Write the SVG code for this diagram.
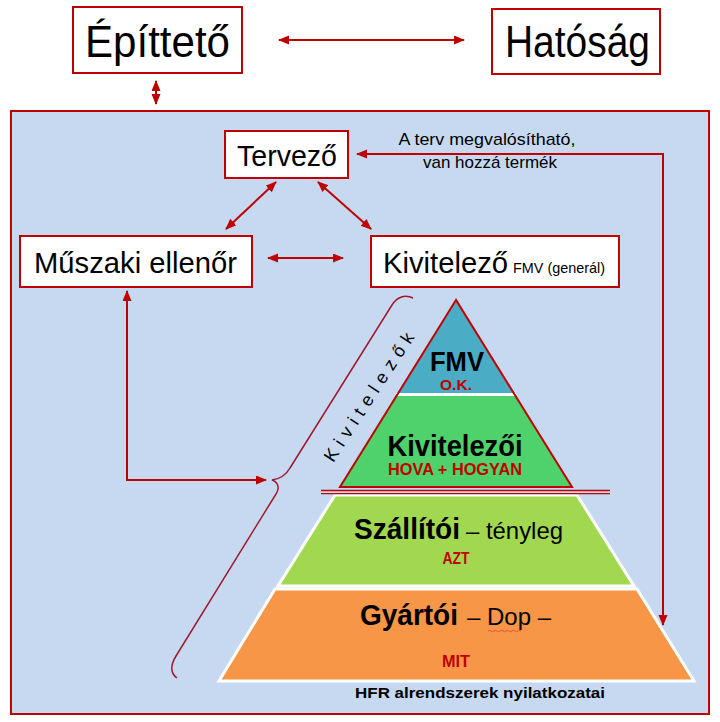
<svg xmlns="http://www.w3.org/2000/svg" width="720" height="722" viewBox="0 0 720 722">
  <style>
    .box { fill: #FFFFFF; stroke: #C00000; stroke-width: 2; }
    .lbl { font-family: "Liberation Sans", Arial, sans-serif; fill: #000000; }
    .bold { font-weight: bold; }
    .red { fill: #C00000; font-weight: bold; }
    .conn { fill: none; stroke: #C00000; stroke-width: 2; }
  </style>
  <defs>
    <marker id="arr" markerUnits="userSpaceOnUse" markerWidth="12" markerHeight="10" refX="10" refY="4.5" orient="auto-start-reverse">
      <path d="M0,0 L11,4.5 L0,9 z" fill="#C00000"/>
    </marker>
  </defs>

  <rect width="720" height="722" fill="#FFFFFF"/>

  <g id="main-area">
    <rect x="11" y="111" width="698" height="603" fill="#C6D9F1" stroke="#C00000" stroke-width="2"/>
  </g>

  <g id="epitteto">
    <rect class="box" x="73" y="7" width="169" height="66"/>
    <text class="lbl" x="85" y="57" font-size="44" textLength="145" lengthAdjust="spacingAndGlyphs">Építtető</text>
  </g>

  <g id="hatosag">
    <rect class="box" x="492" y="9" width="168" height="65"/>
    <text class="lbl" x="505" y="57" font-size="44" textLength="145" lengthAdjust="spacingAndGlyphs">Hatóság</text>
  </g>

  <g id="tervezo">
    <rect class="box" x="225" y="131" width="123" height="47"/>
    <text class="lbl" x="237" y="166" font-size="30" textLength="100" lengthAdjust="spacingAndGlyphs">Tervező</text>
  </g>

  <g id="muszaki-ellenor">
    <rect class="box" x="20" y="236" width="232" height="51"/>
    <text class="lbl" x="34" y="273" font-size="30" textLength="203" lengthAdjust="spacingAndGlyphs">Műszaki ellenőr</text>
  </g>

  <g id="kivitelezo">
    <rect class="box" x="371" y="236" width="248" height="51"/>
    <text class="lbl" x="383" y="273" font-size="30" textLength="125" lengthAdjust="spacingAndGlyphs">Kivitelező</text>
    <text class="lbl" x="513" y="273" font-size="15" textLength="92" lengthAdjust="spacingAndGlyphs">FMV (generál)</text>
  </g>

  <g id="feedback-label">
    <text class="lbl" x="487" y="145" font-size="17" text-anchor="middle" textLength="177" lengthAdjust="spacingAndGlyphs">A terv megvalósítható,</text>
    <text class="lbl" x="490" y="168" font-size="17" text-anchor="middle" textLength="134" lengthAdjust="spacingAndGlyphs">van hozzá termék</text>
  </g>

  <g id="pyramid">
    <polygon id="gyartoi" points="275,589 637,589 694,681 219,681" fill="#F79646" stroke="#FFFFFF" stroke-width="3"/>
    <polygon id="szallitoi" points="335,495 577,495 634,586 278,586" fill="#A2D84F" stroke="#FFFFFF" stroke-width="3"/>
    <polygon id="kivitelezoi" points="397,394 515,394 572,487 340,487" fill="#4FD16B"/>
    <polygon id="fmv" points="456,301 397,394 515,394" fill="#4BACC6"/>
    <line x1="396" y1="394.5" x2="516" y2="394.5" stroke="#FFFFFF" stroke-width="3"/>
    <polygon points="456,300 340,487 572,487" fill="none" stroke="#C00000" stroke-width="2"/>
    <line x1="321" y1="490.5" x2="610" y2="490.5" stroke="#C00000" stroke-width="1.3"/>
    <line x1="321" y1="493.7" x2="610" y2="493.7" stroke="#C00000" stroke-width="1.3"/>

    <text class="lbl bold" x="457" y="371" font-size="27" text-anchor="middle" textLength="54" lengthAdjust="spacingAndGlyphs">FMV</text>
    <text class="lbl red" x="456" y="390" font-size="15" text-anchor="middle" textLength="32" lengthAdjust="spacingAndGlyphs">O.K.</text>

    <text class="lbl bold" x="455" y="456" font-size="29" text-anchor="middle" textLength="135" lengthAdjust="spacingAndGlyphs">Kivitelezői</text>
    <text class="lbl red" x="455" y="475" font-size="16" text-anchor="middle" textLength="134" lengthAdjust="spacingAndGlyphs">HOVA + HOGYAN</text>

    <text class="lbl" y="539" font-size="29"><tspan class="bold" x="354" textLength="106" lengthAdjust="spacingAndGlyphs">Szállítói</tspan><tspan x="466" font-size="24" textLength="97" lengthAdjust="spacingAndGlyphs">– tényleg</tspan></text>
    <text class="lbl red" x="456" y="564" font-size="16" text-anchor="middle" textLength="27" lengthAdjust="spacingAndGlyphs">AZT</text>

    <text class="lbl" y="625" font-size="29"><tspan class="bold" x="360" textLength="98" lengthAdjust="spacingAndGlyphs">Gyártói</tspan><tspan x="467" font-size="24" textLength="84" lengthAdjust="spacingAndGlyphs">– Dop –</tspan></text>
    <path d="M488,631 q1.5,-1.5 3,0 t3,0 t3,0 t3,0 t3,0 t3,0 t3,0 t3,0 t3,0 t3,0 t3,0" fill="none" stroke="#E04040" stroke-width="0.8"/>
    <text class="lbl red" x="456" y="667" font-size="16" text-anchor="middle" textLength="28" lengthAdjust="spacingAndGlyphs">MIT</text>

    <text class="lbl bold" x="480" y="698" font-size="15" text-anchor="middle" textLength="250" lengthAdjust="spacingAndGlyphs">HFR alrendszerek nyilatkozatai</text>
  </g>

  <g id="kivitelezok-brace">
    <path d="M413,298 C405,294 397,297 392,305 L290,468 C286,475 280,479 272,480 C278,482 280,488 276,494 L176,656 C170,666 170,673 177,678" fill="none" stroke="#A0182E" stroke-width="1.5"/>
    <text class="lbl" transform="translate(369,397) rotate(-57)" x="0" y="6" font-size="18" text-anchor="middle" textLength="150" lengthAdjust="spacing">Kivitelezők</text>
  </g>

  <g id="connectors">
    <line class="conn" x1="279" y1="40" x2="464" y2="40" marker-start="url(#arr)" marker-end="url(#arr)"/>
    <line class="conn" x1="156" y1="81" x2="156" y2="104" marker-start="url(#arr)" marker-end="url(#arr)"/>
    <line class="conn" x1="276" y1="182" x2="226" y2="229" marker-start="url(#arr)" marker-end="url(#arr)"/>
    <line class="conn" x1="318" y1="182" x2="371" y2="229" marker-start="url(#arr)" marker-end="url(#arr)"/>
    <line class="conn" x1="268" y1="258" x2="343" y2="258" marker-start="url(#arr)" marker-end="url(#arr)"/>
    <path class="conn" d="M357,154 H663 V625" marker-start="url(#arr)" marker-end="url(#arr)"/>
    <path class="conn" d="M127,291 V480 H266" marker-start="url(#arr)" marker-end="url(#arr)"/>
  </g>
</svg>
